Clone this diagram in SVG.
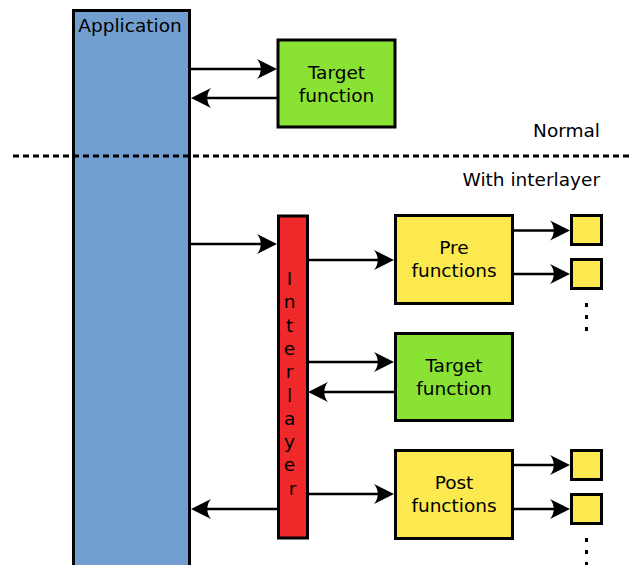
<svg xmlns="http://www.w3.org/2000/svg" width="635" height="565" viewBox="0 0 635 565">
  <style>
    .box { stroke: #000; stroke-width: 3; }
    .app { fill: #729fcf; }
    .target { fill: #8ae234; }
    .inter { fill: #ef2929; }
    .hook { fill: #fce94f; }
    .lbl { font-family: "DejaVu Sans", sans-serif; font-size: 18.5px; fill: #000; }
    .mid { text-anchor: middle; }
    .end { text-anchor: end; }
    .conn line { stroke: #000; stroke-width: 2.6; fill: none; }
    .arrow { marker-end: url(#head); }
    .dots { stroke: #000; stroke-width: 3; stroke-dasharray: 4 8; fill: none; }
  </style>
  <defs>
    <marker id="head" viewBox="-22 -11 23 22" refX="-6" refY="0" markerWidth="23" markerHeight="22" markerUnits="userSpaceOnUse" orient="auto">
      <path d="M0,0 L-20,-10 C-15,-4 -15,4 -20,10 Z" fill="#000"/>
    </marker>
  </defs>

  <rect width="635" height="565" fill="#fff"/>

  <!-- application column -->
  <g id="application">
    <rect class="box app" x="73.5" y="10.5" width="116" height="600"/>
    <text class="lbl mid" x="130" y="32">Application</text>
  </g>

  <!-- separator between the two cases -->
  <g id="separator">
    <line x1="13" y1="156" x2="632" y2="156" stroke="#000" stroke-width="3" stroke-dasharray="6 4"/>
    <text class="lbl end" x="600" y="137">Normal</text>
    <text class="lbl end" x="600" y="186">With interlayer</text>
  </g>

  <!-- normal call -->
  <g id="target-normal">
    <rect class="box target" x="278" y="40" width="117" height="87"/>
    <text class="lbl mid" x="336.5" y="79">Target</text>
    <text class="lbl mid" x="336.5" y="102">function</text>
  </g>

  <!-- interlayer call -->
  <g id="interlayer">
    <rect class="box inter" x="278.5" y="216" width="29" height="322"/>
    <text class="lbl mid" x="292.5">
      <tspan x="292.5" y="285">I</tspan>
      <tspan x="292.5" y="308.3">n</tspan>
      <tspan x="292.5" y="331.6">t</tspan>
      <tspan x="292.5" y="354.9">e</tspan>
      <tspan x="292.5" y="378.2">r</tspan>
      <tspan x="292.5" y="401.5">l</tspan>
      <tspan x="292.5" y="424.8">a</tspan>
      <tspan x="292.5" y="448.1">y</tspan>
      <tspan x="292.5" y="471.4">e</tspan>
      <tspan x="292.5" y="494.7">r</tspan>
    </text>
  </g>

  <g id="pre-functions">
    <rect class="box hook" x="395.5" y="215.5" width="117" height="88"/>
    <text class="lbl mid" x="454" y="254">Pre</text>
    <text class="lbl mid" x="454" y="277">functions</text>
  </g>
  <g id="pre-hook-1"><rect class="box hook" x="571.5" y="215.5" width="30" height="29"/></g>
  <g id="pre-hook-2"><rect class="box hook" x="571.5" y="259.5" width="30" height="29"/></g>
  <g id="pre-more"><line class="dots" x1="586.5" y1="303" x2="586.5" y2="335"/></g>

  <g id="target-interlayer">
    <rect class="box target" x="395.5" y="333.5" width="117" height="87"/>
    <text class="lbl mid" x="454" y="372">Target</text>
    <text class="lbl mid" x="454" y="395">function</text>
  </g>

  <g id="post-functions">
    <rect class="box hook" x="395.5" y="450.5" width="117" height="88"/>
    <text class="lbl mid" x="454" y="489">Post</text>
    <text class="lbl mid" x="454" y="512">functions</text>
  </g>
  <g id="post-hook-1"><rect class="box hook" x="571.5" y="450.5" width="30" height="29"/></g>
  <g id="post-hook-2"><rect class="box hook" x="571.5" y="494.5" width="30" height="29"/></g>
  <g id="post-more"><line class="dots" x1="586.5" y1="538" x2="586.5" y2="570"/></g>

  <!-- calls and returns -->
  <g id="connectors" class="conn">
    <line class="arrow" x1="190" y1="69" x2="271" y2="69"/>
    <line class="arrow" x1="278" y1="98" x2="197" y2="98"/>

    <line class="arrow" x1="190" y1="244" x2="271" y2="244"/>
    <line class="arrow" x1="308" y1="260" x2="388" y2="260"/>
    <line class="arrow" x1="513" y1="230.5" x2="564" y2="230.5"/>
    <line class="arrow" x1="513" y1="274" x2="564" y2="274"/>

    <line class="arrow" x1="308" y1="362" x2="388" y2="362"/>
    <line class="arrow" x1="395" y1="392" x2="314" y2="392"/>

    <line class="arrow" x1="308" y1="494" x2="388" y2="494"/>
    <line class="arrow" x1="513" y1="465" x2="564" y2="465"/>
    <line class="arrow" x1="513" y1="509" x2="564" y2="509"/>
    <line class="arrow" x1="278" y1="509" x2="197" y2="509"/>
  </g>
</svg>
